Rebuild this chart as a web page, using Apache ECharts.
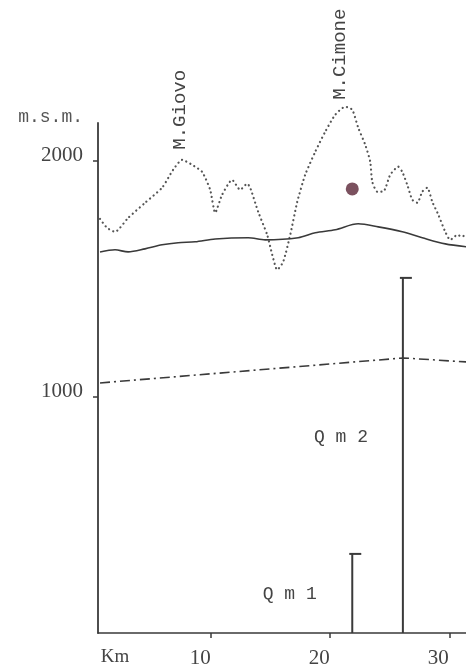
<!DOCTYPE html>
<html>
<head>
<meta charset="utf-8">
<script src="https://cdn.jsdelivr.net/npm/echarts@6/dist/echarts.min.js"></script>
<style>
html,body{margin:0;padding:0;background:#fff;}
#c{width:466px;height:672px;}
</style>
</head>
<body>
<div id="c"></div>
<script>
// ---- data (km, m a.s.l.) ----
const kmTicks = [10, 20, 30];
const kmLabelValues = [2.85, 10, 20, 30];
const altTicks = [1000, 2000];

const topoProfile = [
  [0.67,1754],[1.26,1716],[1.93,1699],[3.03,1758],[4.45,1822],[5.88,1886],[6.81,1962],
  [7.56,2004],[8.40,1983],[9.24,1953],[9.92,1877],[10.34,1780],[10.92,1856],[11.76,1919],
  [12.44,1877],[13.03,1903],[13.28,1886],[13.95,1784],[14.71,1686],[15.13,1602],[15.55,1538],
  [16.05,1572],[16.64,1686],[17.23,1826],[17.90,1941],[18.74,2038],[19.58,2123],[20.42,2195],
  [21.26,2229],[21.85,2216],[22.35,2140],[22.94,2068],[23.36,1996],[23.53,1911],[23.95,1869],
  [24.45,1869],[25.04,1941],[25.71,1975],[26.05,1953],[26.47,1898],[26.89,1835],[27.31,1822],
  [27.73,1869],[28.15,1886],[28.57,1826],[29.08,1771],[29.66,1699],[30.08,1665],[30.67,1686],
  [31.09,1678],[31.43,1695]
];
const solidLevel = [
  [0.67,1614],[1.93,1623],[3.03,1614],[4.45,1627],[5.88,1644],[7.23,1653],[8.66,1657],
  [10.34,1669],[13.11,1674],[14.54,1665],[17.31,1674],[18.74,1695],[20.42,1708],[22.35,1733],
  [24.03,1720],[26.05,1699],[27.73,1674],[29.66,1648],[31.43,1636]
];
const dashDotLevel = [[0.67,1059],[26.13,1165],[31.43,1148]];
const wells = [[21.85,335],[26.1,1504]];
const wellNames = ['Q m 1','Q m 2'];
const station = [[21.85,1881]];
const peakNames = ['M.Giovo','M.Cimone'];
const peakAnchors = [[7.4,2047],[20.8,2258]];
const wellLabelAnchors = [[16.6,165],[20.9,830]];

const ink = '#3a3a3a';
const chart = echarts.init(document.getElementById('c'), null, {renderer:'canvas'});
chart.setOption({
  backgroundColor:'#ffffff',
  animation:false,
  grid:{left:98, right:0, top:123, bottom:39},
  xAxis:{
    type:'value', min:0.5, max:31.4,
    axisLine:{show:true, lineStyle:{color:ink, width:1.5}},
    axisTick:{show:true, customValues:kmTicks, length:5, lineStyle:{color:ink, width:1.5}},
    axisLabel:{
      customValues:kmLabelValues, margin:15, padding:[0,22,0,0],
      color:'#444', fontFamily:'Liberation Serif', fontSize:21,
      formatter:function(v){ return v < 5 ? '{k|Km}' : String(v); },
      rich:{k:{fontFamily:'Liberation Serif', fontSize:19, color:'#444'}}
    },
    splitLine:{show:false}
  },
  yAxis:{
    type:'value', min:0, max:2160,
    name:'m.s.m.', nameLocation:'end', nameGap:-3,
    nameTextStyle:{fontFamily:'Liberation Mono', fontSize:18, color:'#555', align:'right', padding:[0,15,0,0]},
    axisLine:{show:true, lineStyle:{color:ink, width:1.8}},
    axisTick:{show:true, customValues:altTicks, length:5, lineStyle:{color:ink, width:1.5}},
    axisLabel:{customValues:altTicks, margin:15, color:'#444', fontFamily:'Liberation Serif', fontSize:21,
      verticalAlign:'bottom', lineHeight:10,
      formatter:function(v){ return String(v); }},
    splitLine:{show:false}
  },
  series:[
    {type:'line', data:topoProfile, symbol:'none', clip:false, smooth:0.2,
      lineStyle:{color:'#555', width:2.2, type:[0.1,4.5], cap:'round'}},
    {type:'line', data:solidLevel, symbol:'none', smooth:0.3,
      lineStyle:{color:ink, width:1.6}},
    {type:'line', data:dashDotLevel, symbol:'none',
      lineStyle:{color:ink, width:1.6, type:[10,4,2,4]}},
    {type:'custom', data:wells, clip:false,
      renderItem:function(params, api){
        const x = api.value(0), top = api.value(1);
        const p0 = api.coord([x,0]), p1 = api.coord([x,top]);
        return {type:'group', children:[
          {type:'line', shape:{x1:p0[0], y1:p0[1], x2:p1[0], y2:p1[1]}, style:{stroke:ink, lineWidth:2}},
          {type:'line', shape:{x1:p1[0]-3, y1:p1[1], x2:p1[0]+9, y2:p1[1]}, style:{stroke:ink, lineWidth:2}}
        ]};
      }},
    {type:'scatter', data:station, symbol:'circle', symbolSize:13,
      itemStyle:{color:'#5a2637'}},
    {type:'custom', data:peakAnchors.map((p,i)=>[p[0],p[1],i]), clip:false,
      renderItem:function(params, api){
        const p = api.coord([api.value(0), api.value(1)]);
        return {type:'text', x:p[0], y:p[1], rotation:Math.PI/2,
          style:{text:peakNames[api.value(2)], fill:'#444', font:'19px "Liberation Mono"', align:'left', verticalAlign:'middle'}};
      }},
    {type:'custom', data:wellLabelAnchors.map((p,i)=>[p[0],p[1],i]), clip:false,
      renderItem:function(params, api){
        const p = api.coord([api.value(0), api.value(1)]);
        return {type:'text', x:p[0], y:p[1],
          style:{text:wellNames[api.value(2)], fill:'#444', font:'18px "Liberation Mono"', align:'center', verticalAlign:'middle'}};
      }}
  ]
});
</script>
</body>
</html>
